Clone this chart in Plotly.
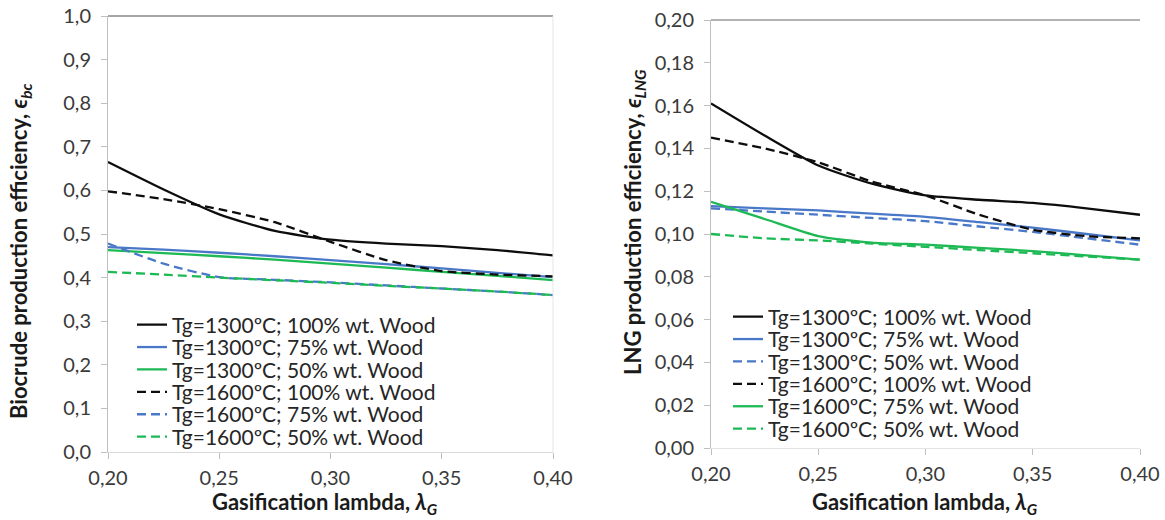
import plotly.graph_objects as go

W, H = 1165, 520

# ---------------- data ----------------
lam = [0.20, 0.225, 0.25, 0.275, 0.30, 0.325, 0.35, 0.375, 0.40]

# Left chart: biocrude production efficiency
bc_1300_100 = [0.665, 0.602, 0.545, 0.507, 0.487, 0.478, 0.472, 0.463, 0.451]
bc_1300_75 = [0.470, 0.464, 0.457, 0.449, 0.440, 0.431, 0.421, 0.411, 0.401]
bc_1300_50 = [0.463, 0.456, 0.449, 0.441, 0.432, 0.423, 0.413, 0.404, 0.394]
bc_1600_100 = [0.598, 0.580, 0.557, 0.527, 0.482, 0.440, 0.415, 0.407, 0.403]
bc_1600_75 = [0.478, 0.432, 0.401, 0.395, 0.389, 0.382, 0.375, 0.368, 0.360]
bc_1600_50 = [0.413, 0.407, 0.400, 0.394, 0.388, 0.381, 0.375, 0.368, 0.360]

# Right chart: LNG production efficiency
lng_1300_100 = [0.161, 0.146, 0.132, 0.1235, 0.118, 0.116, 0.1145, 0.112, 0.109]
lng_1300_75 = [0.113, 0.112, 0.111, 0.1095, 0.108, 0.1055, 0.103, 0.100, 0.097]
lng_1300_50 = [0.112, 0.1105, 0.109, 0.1075, 0.106, 0.1035, 0.101, 0.098, 0.095]
lng_1600_100 = [0.145, 0.140, 0.1335, 0.1245, 0.118, 0.109, 0.102, 0.099, 0.098]
lng_1600_75 = [0.115, 0.107, 0.099, 0.096, 0.095, 0.0935, 0.092, 0.090, 0.088]
lng_1600_50 = [0.100, 0.098, 0.097, 0.0955, 0.094, 0.0925, 0.091, 0.0895, 0.088]

left_names = ["Tg=1300ºC; 100% wt. Wood", "Tg=1300ºC; 75% wt. Wood", "Tg=1300ºC; 50% wt. Wood",
              "Tg=1600ºC; 100% wt. Wood", "Tg=1600ºC; 75% wt. Wood", "Tg=1600ºC; 50% wt. Wood"]
right_names = ["Tg=1300ºC; 100% wt. Wood", "Tg=1300ºC; 75% wt. Wood", "Tg=1300ºC; 50% wt. Wood",
               "Tg=1600ºC; 100% wt. Wood", "Tg=1600ºC; 75% wt. Wood", "Tg=1600ºC; 50% wt. Wood"]

x_ticks = [0.20, 0.25, 0.30, 0.35, 0.40]
y_ticks_left = [0.0, 0.1, 0.2, 0.3, 0.4, 0.5, 0.6, 0.7, 0.8, 0.9, 1.0]
y_ticks_right = [0.00, 0.02, 0.04, 0.06, 0.08, 0.10, 0.12, 0.14, 0.16, 0.18, 0.20]

# ---------------- styles ----------------
BLACK = "#0d0d0d"
BLUE = "#4a78c8"
GREEN = "#1db954"
DASH = "9px,5px"
FONT = "Lato"
TXT = "#262626"
TICK = "#3a3a3a"

left_styles = [(BLACK, "solid"), (BLUE, "solid"), (GREEN, "solid"),
               (BLACK, DASH), (BLUE, DASH), (GREEN, DASH)]
right_styles = [(BLACK, "solid"), (BLUE, "solid"), (BLUE, DASH),
                (BLACK, DASH), (GREEN, "solid"), (GREEN, DASH)]

left_data = [bc_1300_100, bc_1300_75, bc_1300_50, bc_1600_100, bc_1600_75, bc_1600_50]
right_data = [lng_1300_100, lng_1300_75, lng_1300_50, lng_1600_100, lng_1600_75, lng_1600_50]

fig = go.Figure()

legend_layouts = {}
row_gap = 22.4
left_leg_x, left_leg_y0 = 132, 325
right_leg_x, right_leg_y0 = 728, 317
LEG_SIZE = 21

for i in range(6):
    col, dash = left_styles[i]
    lname = "legend" if i == 0 else f"legend{i + 1}"
    fig.add_trace(go.Scatter(
        x=lam, y=left_data[i], name=left_names[i], mode="lines",
        line=dict(color=col, width=2.3, dash=dash, shape="spline", smoothing=0.6),
        xaxis="x", yaxis="y", legend=lname))
    legend_layouts[lname] = dict(
        x=left_leg_x / W, y=1 - (left_leg_y0 + i * row_gap) / H,
        xanchor="left", yanchor="middle", bgcolor="rgba(0,0,0,0)",
        font=dict(family=FONT, size=LEG_SIZE, color=TXT), itemwidth=30)

for i in range(6):
    col, dash = right_styles[i]
    lname = f"legend{i + 7}"
    fig.add_trace(go.Scatter(
        x=lam, y=right_data[i], name=right_names[i], mode="lines",
        line=dict(color=col, width=2.3, dash=dash, shape="spline", smoothing=0.6),
        xaxis="x2", yaxis="y2", legend=lname))
    legend_layouts[lname] = dict(
        x=right_leg_x / W, y=1 - (right_leg_y0 + i * row_gap) / H,
        xanchor="left", yanchor="middle", bgcolor="rgba(0,0,0,0)",
        font=dict(family=FONT, size=LEG_SIZE, color=TXT), itemwidth=30)

axis_common = dict(
    showgrid=False, zeroline=False, ticks="outside", ticklen=6, tickwidth=1,
    tickcolor="#bfbfbf", tickfont=dict(family=FONT, size=20, color=TICK),
    automargin=False, fixedrange=True,
)

fig.update_layout(
    width=W, height=H,
    margin=dict(l=0, r=0, t=0, b=0),
    paper_bgcolor="white", plot_bgcolor="white",
    separators=",.",
    showlegend=True,
    xaxis=dict(domain=[108 / W, 553 / W], range=[0.20, 0.40], tickvals=x_ticks,
               tickformat=".2f", anchor="y", showline=True, linecolor="#d9d9d9",
               mirror=False, ticklabelstandoff=2, **axis_common),
    yaxis=dict(domain=[1 - 452 / H, 1 - 16 / H], range=[0, 1.0], tickvals=y_ticks_left,
               tickformat=".1f", anchor="x", showline=True, linecolor="#bfbfbf",
               ticklabelstandoff=6, **axis_common),
    xaxis2=dict(domain=[711 / W, 1140 / W], range=[0.20, 0.40], tickvals=x_ticks,
                tickformat=".2f", anchor="y2", showline=True, linecolor="#e3e3e3",
                ticklabelstandoff=2, **axis_common),
    yaxis2=dict(domain=[1 - 448 / H, 1 - 20 / H], range=[0, 0.20], tickvals=y_ticks_right,
                tickformat=".2f", anchor="x2", showline=True, linecolor="#bfbfbf",
                ticklabelstandoff=6, **axis_common),
    **legend_layouts,
)

# frame lines (top border of each plot, faint right border of left plot)
fig.add_shape(type="line", xref="x domain", yref="y domain", x0=0, x1=1, y0=1, y1=1,
              line=dict(color="#a6a6a6", width=2))
fig.add_shape(type="line", xref="x domain", yref="y domain", x0=1, x1=1, y0=0, y1=1,
              line=dict(color="#e6e6e6", width=1))
fig.add_shape(type="line", xref="x2 domain", yref="y2 domain", x0=0, x1=1, y0=1, y1=1,
              line=dict(color="#b3b3b3", width=2))

title_font = dict(family=FONT, size=22, color="#1a1a1a")
fig.add_annotation(xref="paper", yref="paper", x=20 / W, y=1 - 252 / H,
                   text="<b>Biocrude production efficiency, </b><b><i>ϵ<sub>bc</sub></i></b>",
                   textangle=-90, showarrow=False, font=title_font,
                   xanchor="center", yanchor="middle")
fig.add_annotation(xref="paper", yref="paper", x=634 / W, y=1 - 222 / H,
                   text="<b>LNG production efficiency, </b><b><i>ϵ<sub>LNG</sub></i></b>",
                   textangle=-90, showarrow=False, font=title_font,
                   xanchor="center", yanchor="middle")
fig.add_annotation(xref="paper", yref="paper", x=325 / W, y=1 - 503 / H,
                   text="<b>Gasification lambda, </b><b><i>λ<sub>G</sub></i></b>",
                   showarrow=False, font=title_font, xanchor="center", yanchor="middle")
fig.add_annotation(xref="paper", yref="paper", x=925 / W, y=1 - 503 / H,
                   text="<b>Gasification lambda, </b><b><i>λ<sub>G</sub></i></b>",
                   showarrow=False, font=title_font, xanchor="center", yanchor="middle")

fig.write_html("out.html")
